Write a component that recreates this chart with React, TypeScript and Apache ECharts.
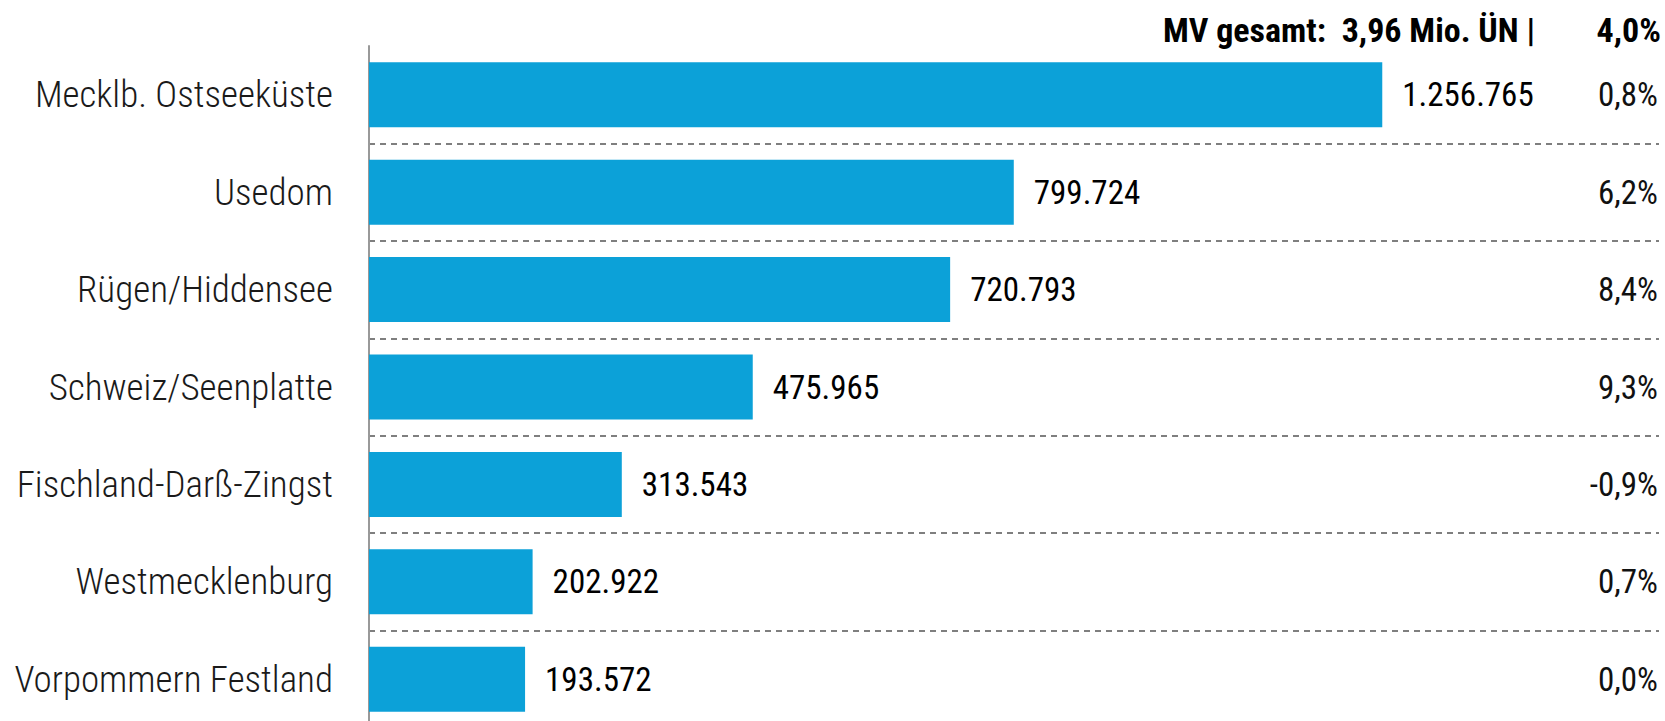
import React, { useEffect, useRef } from "react";
import * as echarts from "echarts";

const categories = [
  "Mecklb. Ostseeküste",
  "Usedom",
  "Rügen/Hiddensee",
  "Schweiz/Seenplatte",
  "Fischland-Darß-Zingst",
  "Westmecklenburg",
  "Vorpommern Festland",
];
const overnightStays = [1256765, 799724, 720793, 475965, 313543, 202922, 193572];
const changePercent = [0.8, 6.2, 8.4, 9.3, -0.9, 0.7, 0.0];
const totalLabel = "MV gesamt:  3,96 Mio. ÜN |";
const totalChange = 4.0;

const FONT = "'Roboto Condensed', 'Liberation Sans Narrow', Roboto, sans-serif";

const fmtThousands = (v: number) =>
  String(Math.round(v)).replace(/\B(?=(\d{3})+(?!\d))/g, ".");
const fmtPct = (v: number) => v.toFixed(1).replace(".", ",") + "%";

export default function App() {
  const ref = useRef<HTMLDivElement>(null);
  useEffect(() => {
    if (!ref.current) return;
    const chart = echarts.init(ref.current, undefined, { renderer: "svg" });
    chart.setOption({
      animation: false,
      backgroundColor: "#ffffff",
      grid: { left: 369, right: 6, top: 46, bottom: 0, containLabel: false },
      xAxis: {
        type: "value",
        min: 0,
        max: 1600000,
        show: false,
      },
      yAxis: [
        {
          type: "category",
          data: categories,
          inverse: true,
          position: "left",
          axisLine: { show: true, lineStyle: { color: "#999999", width: 2 } },
          axisTick: { show: false },
          axisLabel: {
            fontFamily: FONT,
            fontSize: 37,
            fontWeight: 300,
            color: "#1a1a1a",
            margin: 36,
          },
          splitLine: {
            show: true,
            interval: (index: number) => index !== 0,
            lineStyle: { color: "#555555", width: 1.5, type: [6, 5] },
          },
        },
        {
          type: "category",
          data: changePercent.map(fmtPct),
          inverse: true,
          position: "right",
          axisLine: { show: false },
          axisTick: { show: false },
          splitLine: { show: false },
          axisLabel: {
            inside: true,
            margin: 1,
            padding: [8, 0, 0, 0],
            fontFamily: FONT,
            fontSize: 33,
            fontWeight: 400,
            color: "#111111",
          },
        },
      ],
      series: [
        {
          type: "bar",
          yAxisIndex: 0,
          data: overnightStays,
          barCategoryGap: "33.3%",
          itemStyle: { color: "#0CA1D8" },
          label: {
            show: true,
            position: "right",
            distance: 20,
            fontFamily: FONT,
            fontSize: 33,
            fontWeight: 400,
            color: "#000000",
            formatter: (p: any) => fmtThousands(p.value),
          },
        },
      ],
      graphic: [
        {
          type: "text",
          right: 130,
          top: 13,
          style: {
            text: totalLabel,
            fontFamily: FONT,
            fontSize: 34,
            fontWeight: "bold",
            fill: "#000000",
          },
        },
        {
          type: "text",
          right: 4,
          top: 13,
          style: {
            text: fmtPct(totalChange),
            fontFamily: FONT,
            fontSize: 34,
            fontWeight: "bold",
            fill: "#000000",
          },
        },
      ],
    });
    return () => chart.dispose();
  }, []);
  return (
    <div
      ref={ref}
      style={{ position: "fixed", left: 0, top: 0, width: 1665, height: 728 }}
    />
  );
}
